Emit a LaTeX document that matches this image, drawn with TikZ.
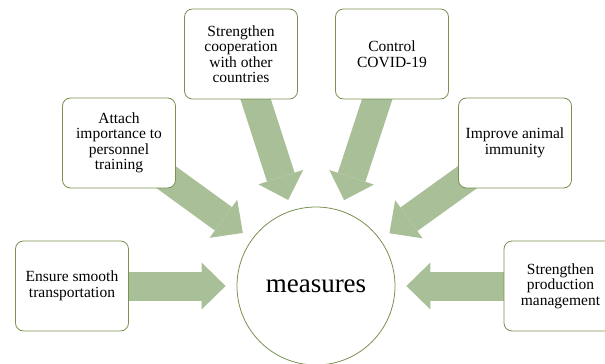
\documentclass[tikz,border=0pt]{standalone}
\usepackage{fontspec}
\setmainfont{Liberation Serif}
\usetikzlibrary{positioning,backgrounds,arrows.meta}
\definecolor{leaf}{HTML}{A8BF98}
\definecolor{rim}{HTML}{7A9152}

\begin{document}
\begin{tikzpicture}[on grid,
                    measure/.style={draw=rim,line width=0.8pt,rounded corners=8pt,fill=white,
                      minimum width=113pt,minimum height=90pt,align=center,inner sep=2pt,
                      font=\fontsize{15.5}{15.5}\selectfont},
                    hub/.style={circle,draw=rim,line width=0.8pt,fill=white,
                      minimum size=158pt,font=\fontsize{27}{30}\selectfont},
                    fat/.style={draw=leaf,line width=29pt,shorten >=11pt,
                      -{Triangle[width=47pt,length=24pt,line width=0pt]}}]

  \clip (-316pt,-78pt) rectangle (289pt,286pt);

  \node[hub]     (M)                                    {measures};
  \node[measure] (T) [left=244pt of M]                  {Ensure smooth\\transportation};
  \node[measure] (P) [right=244.5pt of M]               {Strengthen\\production\\management};
  \node[measure] (A) [above left=143pt and 197pt of M]  {Attach\\importance to\\personnel\\training};
  \node[measure] (I) [above right=143pt and 199pt of M] {Improve animal\\immunity};
  \node[measure] (S) [above left=232pt and 75pt of M]   {Strengthen\\cooperation\\with other\\countries};
  \node[measure] (C) [above right=232pt and 76pt of M]  {Control\\COVID-19};

  \begin{scope}[on background layer]
    \draw[fat] (T.center) -- (M);
    \draw[fat] (A.center) -- (M);
    \draw[fat] (S.center) -- (M);
    \draw[fat] (C.center) -- (M);
    \draw[fat] (I.center) -- (M);
    \draw[fat] (P.center) -- (M);
  \end{scope}
\end{tikzpicture}
\end{document}
